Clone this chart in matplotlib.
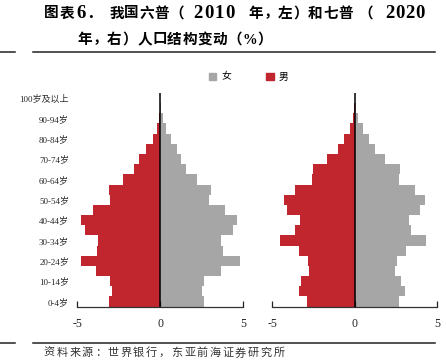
import numpy as np
import matplotlib
matplotlib.use("Agg")
import matplotlib.pyplot as plt
from matplotlib.patches import Patch
from matplotlib.lines import Line2D

plt.rcParams['font.family'] = ['Liberation Serif', 'Noto Sans CJK SC', 'DejaVu Sans']

# 年龄组 (0-4岁 ... 100岁及以上)
ages = ['0-4岁', '5-9岁', '10-14岁', '15-19岁', '20-24岁', '25-29岁', '30-34岁',
        '35-39岁', '40-44岁', '45-49岁', '50-54岁', '55-59岁', '60-64岁', '65-69岁',
        '70-74岁', '75-79岁', '80-84岁', '85-89岁', '90-94岁', '95-99岁', '100岁及以上']

# 六普 2010 (%)
male_2010 = [3.09, 2.93, 3.03, 3.88, 4.80, 3.84, 3.73, 4.54, 4.80, 4.04, 3.03,
             3.09, 2.27, 1.59, 1.27, 0.86, 0.46, 0.18, 0.07, 0.02, 0.01]
female_2010 = [2.65, 2.49, 2.63, 3.63, 4.80, 3.80, 3.63, 4.36, 4.60, 3.90, 2.95,
               3.03, 2.19, 1.55, 1.24, 0.98, 0.62, 0.34, 0.16, 0.06, 0.01]

# 七普 2020 (%)
male_2020 = [2.89, 3.39, 3.23, 2.79, 2.83, 3.39, 4.51, 3.60, 3.35, 4.10, 4.30,
             3.60, 2.59, 2.55, 1.68, 1.03, 0.65, 0.32, 0.12, 0.04, 0.01]
female_2020 = [2.67, 3.03, 2.83, 2.46, 2.57, 3.11, 4.32, 3.43, 3.27, 3.98, 4.28,
               3.62, 2.67, 2.73, 1.86, 1.21, 0.85, 0.48, 0.20, 0.07, 0.01]

xticks = [-5, 0, 5]

title_line2 = '年，右）人口结构变动（%）'
source = '资料来源：世界银行，东亚前海证券研究所'

red = '#C1262F'
grey = '#A6A6A6'
W, H = 446, 362

fig = plt.figure(figsize=(4.46, 3.62), dpi=100)
ax1 = fig.add_axes([0.1733, 0.1533, 0.3722, 0.5898])
ax2 = fig.add_axes([0.6105, 0.1533, 0.3700, 0.5898])

y = np.arange(len(ages))

for ax, m, f in [(ax1, male_2010, female_2010), (ax2, male_2020, female_2020)]:
    ax.barh(y, -np.array(m), height=1.0, color=red, linewidth=0)
    ax.barh(y, f, height=1.0, color=grey, linewidth=0)
    ax.axvline(0, color='black', lw=1.1)
    ax.set_xlim(-5, 5)
    ax.set_ylim(-0.5, 20.5)
    ax.set_xticks(xticks)
    ax.set_xticklabels([str(t) for t in xticks], fontsize=8.5)
    ax.tick_params(axis='x', direction='in', length=4, width=0.9, pad=8, colors='#222222')
    for s in ['top', 'right', 'left']:
        ax.spines[s].set_visible(False)
    ax.spines['bottom'].set_color('#333333')
    ax.spines['bottom'].set_linewidth(0.9)

ax1.set_yticks(y[::2])
ax1.set_yticklabels(ages[::2], fontsize=6.5, color='#2a2a2a')
ax1.tick_params(axis='y', length=0, pad=6)
ax2.set_yticks([])

handles = [Patch(color=grey, label='女'), Patch(color=red, label='男')]
fig.legend(handles=handles, loc='center', bbox_to_anchor=(0.557, 0.787), ncol=2,
           frameon=False, fontsize=7, handlelength=0.8, handleheight=0.8,
           columnspacing=3.6, handletextpad=0.5)


# 两端对齐的标题: 逐字排版
def spaced(txt, x0, pitch, ypx, **kw):
    for i, ch in enumerate(txt):
        fig.text((x0 + pitch * (i + 0.5)) / W, 1 - ypx / H, ch,
                 ha='center', va='center', **kw)


cjk = dict(fontsize=10.5, fontweight='bold')
num = dict(fontsize=13.5, fontweight='bold')
spaced('图表', 44, 15, 14, **cjk)
spaced('6.', 77, 9, 14, **num)
spaced('我国六普（', 109, 15, 14, **cjk)
spaced('2010', 193, 10.5, 14, **num)
spaced('年，左）和七普', 248, 15, 14, **cjk)
spaced('（', 358, 15, 14, **cjk)
spaced('2020', 385, 10, 14, **num)
spaced(title_line2, 77, 15, 40, **cjk)

# 分隔线
for yy in [1 - 52 / H, 1 - 343 / H]:
    fig.add_artist(Line2D([0, 15 / W], [yy, yy], color='#222222', lw=1.1))
    fig.add_artist(Line2D([33 / W, 435 / W], [yy, yy], color='#222222', lw=1.1))

spaced(source, 43, 12.75, 353, fontsize=8, color='#333333')

fig.savefig('out.png', dpi=100)
